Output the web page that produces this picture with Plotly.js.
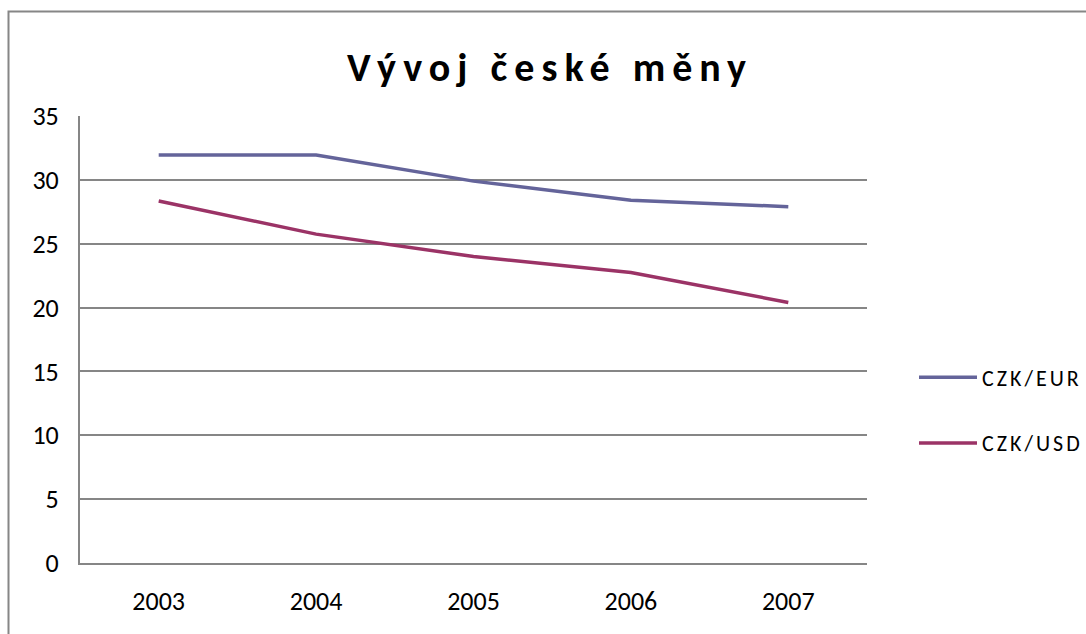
<!DOCTYPE html>
<html>
<head>
<meta charset="utf-8">
<script src="https://cdn.plot.ly/plotly-3.0.1.min.js"></script>
<style>
  html, body { margin: 0; padding: 0; background: #fff; }
  #chart { width: 1086px; height: 634px; }
  .gtitle { letter-spacing: 7px; }
  .legendtext { letter-spacing: 3px; }
</style>
</head>
<body>
<div id="chart"></div>
<script>
const years = ['2003', '2004', '2005', '2006', '2007'];
const czkEur = [31.95, 31.95, 29.9, 28.4, 27.9];
const czkUsd = [28.35, 25.75, 24.0, 22.75, 20.4];
const seriesNames = ['CZK/EUR', 'CZK/USD'];
const yTicks = [0, 5, 10, 15, 20, 25, 30, 35];

const FONT = 'Carlito, Calibri, Lato, "Open Sans", sans-serif';

const traces = [
  { x: years, y: czkEur, name: seriesNames[0], type: 'scatter', mode: 'lines',
    line: { color: '#64649a', width: 3.5 }, legendgroup: 'a', showlegend: true },
  { x: years, y: czkUsd, name: seriesNames[1], type: 'scatter', mode: 'lines',
    line: { color: '#9b3366', width: 3.5 }, legendgroup: 'b', showlegend: true }
];

const L = 80, R = 867, T = 116, B = 563, W = 1086, H = 634;
const px = v => (v - L) / (R - L);
const py = v => (B - v) / (B - T);

const layout = {
  width: W, height: H,
  paper_bgcolor: '#fff', plot_bgcolor: '#fff',
  margin: { l: L, r: W - R, t: T, b: H - B, pad: 0, autoexpand: false },
  font: { family: FONT, color: '#000' },
  showlegend: true,
  title: {
    text: '<b>Vývoj české měny</b>',
    font: { family: FONT, size: 40, color: '#000' },
    x: 550 / W, xref: 'container', xanchor: 'center',
    y: 1 - 67 / H, yref: 'container', yanchor: 'middle'
  },
  xaxis: {
    type: 'category', range: [-0.5, 4.5], automargin: false,
    showline: true, linecolor: '#868686', linewidth: 2,
    showgrid: false, ticks: '', zeroline: false,
    tickfont: { family: FONT, size: 26, color: '#000' },
    ticklabelstandoff: 14, fixedrange: true
  },
  yaxis: {
    range: [0, 35], tickvals: yTicks, automargin: false,
    showline: true, linecolor: '#868686', linewidth: 2,
    showgrid: true, gridcolor: '#868686', gridwidth: 2,
    zeroline: false, ticks: '',
    tickfont: { family: FONT, size: 26, color: '#000' },
    ticklabelstandoff: 14, fixedrange: true
  },
  legend: {
    x: px(914), y: py(410.5), xanchor: 'left', yanchor: 'middle',
    bgcolor: 'rgba(0,0,0,0)', traceorder: 'grouped', tracegroupgap: 34,
    font: { family: FONT, size: 22, color: '#000' }, itemwidth: 58
  },
  shapes: [{
    type: 'rect', xref: 'paper', yref: 'paper',
    x0: px(8.5), x1: px(1095), y0: py(645), y1: py(11.5),
    line: { color: '#868686', width: 2 }, fillcolor: 'rgba(0,0,0,0)', layer: 'below'
  }]
};

Plotly.newPlot('chart', traces, layout, { displayModeBar: false, staticPlot: true });
</script>
</body>
</html>
